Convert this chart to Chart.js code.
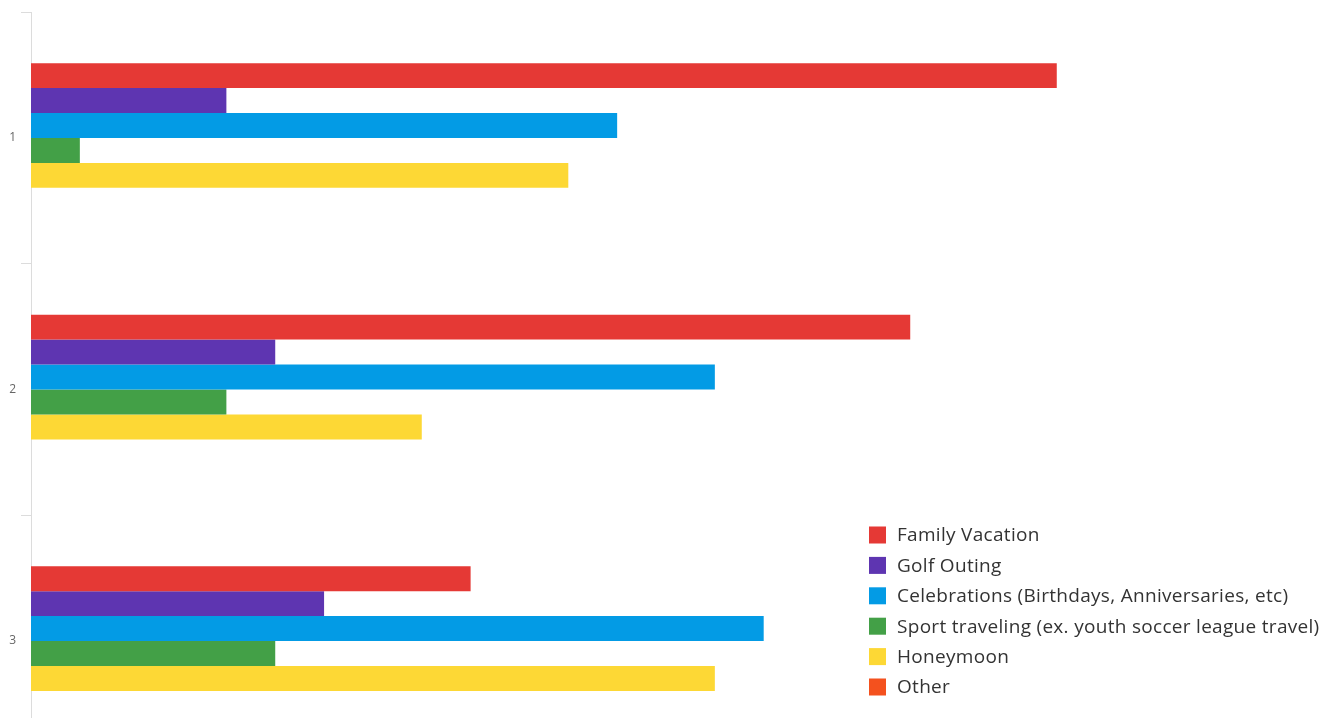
<!DOCTYPE html>
<html>
<head>
<meta charset="utf-8">
<title>Trip types</title>
<script src="https://cdn.jsdelivr.net/npm/chart.js@4/dist/chart.umd.min.js"></script>
<style>
  html, body { margin: 0; padding: 0; background: #fff; overflow: hidden; }
  #wrap { position: relative; width: 1337px; height: 779px; }
</style>
</head>
<body>
<div id="wrap"><canvas id="chart"></canvas></div>
<script>
const categories = ['1', '2', '3'];

const seriesNames = [
    'Family Vacation',
    'Golf Outing',
    'Celebrations (Birthdays, Anniversaries, etc)',
    'Sport traveling (ex. youth soccer league travel)',
    'Honeymoon',
    'Other'
];

const familyVacation = [21, 18, 9];
const golfOuting = [4, 5, 6];
const celebrations = [12, 14, 15];
const sportTraveling = [1, 4, 5];
const honeymoon = [11, 8, 14];
const other = [0, 0, 0];

const colors = ['#e53935', '#5e35b1', '#039be5', '#43a047', '#fdd835', '#f4511e'];

const seriesValues = [familyVacation, golfOuting, celebrations, sportTraveling, honeymoon, other];

// legend box drawn inside the plot, lower right
const cornerLegend = {
    id: 'cornerLegend',
    afterDraw(chart, args, opts) {
        const ctx = chart.ctx;
        ctx.save();
        ctx.font = opts.font;
        if ('letterSpacing' in ctx) ctx.letterSpacing = opts.letterSpacing;
        ctx.textBaseline = 'middle';
        ctx.textAlign = 'left';
        chart.data.datasets.forEach((ds, i) => {
            const cy = opts.y + i * opts.rowHeight;
            ctx.fillStyle = ds.backgroundColor;
            ctx.fillRect(opts.x, cy - opts.box / 2, opts.box, opts.box);
            ctx.fillStyle = opts.color;
            ctx.fillText(ds.label, opts.x + opts.box + opts.gap, cy + 1);
        });
        ctx.restore();
    }
};

new Chart(document.getElementById('chart'), {
    type: 'bar',
    data: {
        labels: categories,
        datasets: seriesNames.map((name, i) => ({
            label: name,
            data: seriesValues[i],
            backgroundColor: colors[i],
            borderWidth: 0,
            barPercentage: 1,
            categoryPercentage: 0.595
        }))
    },
    options: {
        indexAxis: 'y',
        responsive: true,
        maintainAspectRatio: false,
        animation: false,
        layout: { padding: { top: 10, right: 36, bottom: 3, left: 0 } },
        scales: {
            x: {
                display: false,
                min: 0,
                max: 26
            },
            y: {
                afterFit(scale) { scale.width = 31; },
                grid: {
                    drawOnChartArea: false,
                    drawTicks: true,
                    tickLength: 10,
                    color: '#dcdcdc'
                },
                border: { color: '#dcdcdc', width: 1 },
                ticks: {
                    padding: 5,
                    color: '#666',
                    font: { family: 'Open Sans', size: 12 }
                }
            }
        },
        plugins: {
            legend: { display: false },
            tooltip: { enabled: false },
            cornerLegend: {
                x: 869,
                y: 535,
                rowHeight: 30.4,
                box: 17,
                gap: 11,
                font: '19px "Open Sans"',
                letterSpacing: '0.3px',
                color: '#333'
            }
        }
    },
    plugins: [cornerLegend]
});
</script>
</body>
</html>
